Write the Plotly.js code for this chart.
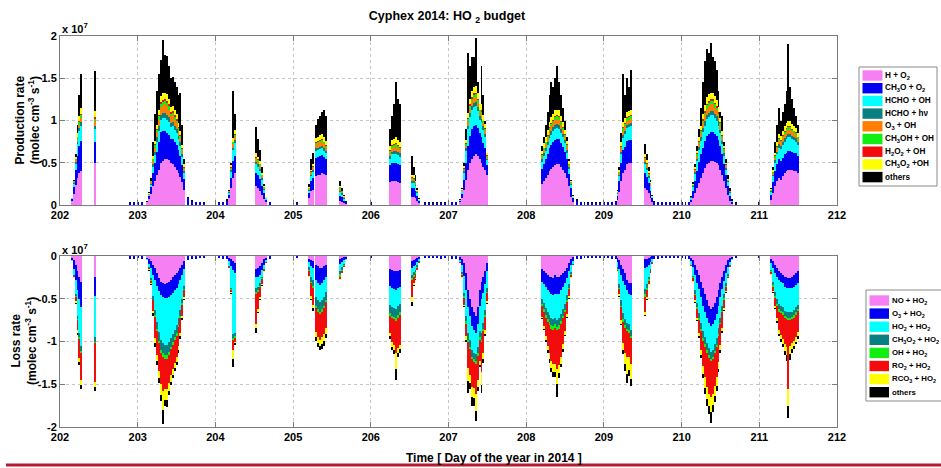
<!DOCTYPE html>
<html><head><meta charset="utf-8">
<script src="https://cdn.plot.ly/plotly-3.0.1.min.js"></script>
<style>html,body{margin:0;padding:0;background:#fff}#chart{width:941px;height:468px}</style>
</head><body><div id="chart"></div>
<script>
// ---------- time (day of year 2014), daytime samples ----------
const time = [
202.15,202.175,202.2,202.225,202.25,202.275,
202.45,
203.125,203.15,203.175,203.2,203.225,203.25,203.275,203.3,203.325,203.35,203.375,203.4,203.425,203.45,203.475,203.5,203.525,203.55,203.575,203.6,
204.175,204.2,204.225,204.25,
204.525,204.55,204.575,204.6,204.625,204.65,
205.2,205.225,205.25,205.3,205.325,205.35,205.375,205.4,205.425,
205.6,205.625,205.65,205.675,
206.25,206.275,206.3,206.325,206.35,206.375,
206.525,206.55,206.575,206.6,206.625,
207.15,207.175,207.2,207.225,207.25,207.275,207.3,207.325,207.35,207.375,207.4,207.425,207.45,207.475,207.5,
208.2,208.225,208.25,208.275,208.3,208.325,208.35,208.375,208.4,208.425,208.45,208.475,208.5,208.525,208.55,208.575,208.6,
209.175,209.2,209.225,209.25,209.275,209.3,209.325,209.35,
209.525,209.55,209.575,209.6,209.625,
210.125,210.15,210.175,210.2,210.225,210.25,210.275,210.3,210.325,210.35,210.375,210.4,210.425,210.45,210.475,210.5,210.525,210.55,210.575,210.6,210.625,210.65,
211.15,211.175,211.2,211.225,211.25,211.275,211.3,211.325,211.35,211.375,211.4,211.425,211.45,211.475,211.5
];
// night-time samples (small background values)
const nightTime = [202.9,202.95,203.0,203.05, 203.65,203.7,203.75,203.8,203.85, 204.05,204.1,204.15, 204.7, 205.05, 206.0,
206.7,206.75,206.8,206.85,206.9,206.95,207.0,207.05,207.1,
208.65,208.7,208.75,208.8,208.85,208.9,208.95,209.0,209.05,209.1,209.15,
209.65,209.7,209.75,209.8,209.85,209.9,209.95,210.0,210.05,210.1, 210.7, 211.0];

// ---------- HO2 production terms (units of 1e7 molec cm-3 s-1) ----------
const H_O2 = [
.05,.13,.24,.32,.38,.40,
.50,
.03,.07,.13,.22,.28,.35,.42,.50,.52,.55,.55,.53,.50,.48,.45,.42,.38,.33,.27,.18,
.08,.20,.32,.38,
.22,.20,.17,.12,.07,.03,
.08,.16,.18,.34,.35,.36,.38,.37,.35,
.05,.04,.02,.01,
.27,.28,.28,.28,.27,.26,
.10,.10,.08,.05,.02,
.03,.08,.18,.30,.42,.50,.55,.58,.60,.58,.55,.50,.45,.42,.35,
.25,.28,.32,.35,.40,.43,.45,.47,.48,.48,.45,.42,.38,.32,.22,.10,.03,
.06,.15,.28,.38,.42,.48,.50,.50,
.20,.18,.14,.08,.03,
.03,.08,.14,.20,.26,.32,.38,.44,.48,.50,.52,.52,.51,.50,.47,.42,.36,.28,.20,.12,.05,.01,
.06,.14,.22,.28,.32,.30,.34,.38,.40,.42,.42,.41,.40,.40,.38
];
const CH3O_O2 = [
.02,.08,.17,.26,.32,.36,
.25,
.01,.04,.08,.16,.22,.28,.32,.36,.35,.33,.30,.30,.28,.30,.30,.29,.27,.25,.20,.13,
.04,.12,.20,.20,
.16,.15,.14,.11,.07,.03,
.06,.12,.14,.22,.22,.22,.21,.20,.20,
.06,.05,.03,.02,
.20,.22,.22,.22,.22,.21,
.10,.10,.09,.06,.03,
.02,.05,.12,.20,.28,.32,.35,.36,.35,.33,.30,.30,.28,.25,.12,
.18,.20,.22,.25,.27,.28,.30,.30,.30,.30,.28,.27,.25,.22,.15,.10,.05,
.05,.13,.22,.27,.27,.28,.27,.27,
.18,.15,.12,.09,.05,
.03,.08,.14,.20,.25,.28,.30,.32,.34,.34,.34,.34,.33,.32,.30,.28,.24,.20,.15,.10,.06,.03,
.06,.13,.18,.20,.22,.22,.22,.22,.22,.22,.22,.22,.22,.21,.20
];
const HCHO_OH = [
.01,.04,.08,.14,.17,.17,
.15,
.00,.01,.03,.07,.09,.12,.14,.15,.16,.15,.16,.15,.14,.15,.14,.14,.13,.12,.10,.07,
.02,.07,.13,.15,
.10,.10,.09,.07,.04,.02,
.03,.06,.07,.08,.08,.08,.08,.07,.06,
.04,.03,.02,.01,
.08,.10,.10,.10,.10,.10,
.06,.06,.05,.03,.01,
.01,.03,.08,.14,.20,.22,.22,.22,.22,.20,.16,.18,.16,.14,.06,
.08,.10,.10,.11,.12,.12,.12,.13,.13,.12,.12,.11,.10,.08,.06,.04,.02,
.02,.06,.10,.14,.15,.15,.15,.16,
.10,.08,.06,.05,.02,
.02,.05,.09,.12,.14,.16,.18,.18,.20,.20,.20,.20,.19,.18,.17,.15,.12,.10,.07,.05,.03,.01,
.03,.07,.10,.12,.14,.14,.15,.15,.16,.16,.16,.15,.15,.14,.13
];
const HCHO_hv = [
.00,.01,.02,.03,.04,.05,
.04,
.00,.00,.01,.03,.04,.05,.05,.06,.06,.06,.06,.06,.05,.05,.05,.05,.04,.04,.03,.02,
.01,.02,.03,.04,
.03,.03,.03,.02,.01,.00,
.01,.02,.02,.03,.03,.03,.03,.03,.03,
.02,.02,.01,.00,
.03,.03,.04,.04,.04,.04,
.02,.02,.02,.01,.00,
.00,.01,.02,.03,.04,.05,.05,.05,.05,.05,.04,.04,.04,.03,.02,
.03,.03,.04,.04,.04,.05,.05,.05,.05,.05,.05,.04,.04,.03,.02,.01,.00,
.01,.02,.03,.04,.04,.04,.04,.04,
.03,.03,.02,.01,.00,
.01,.01,.02,.03,.04,.04,.05,.05,.05,.05,.05,.05,.05,.05,.05,.04,.04,.03,.02,.01,.01,.00,
.01,.02,.03,.03,.04,.04,.04,.04,.04,.04,.04,.04,.04,.04,.03
];
const O3_OH = [
.00,.01,.02,.03,.04,.05,
.05,
.00,.01,.02,.04,.05,.06,.08,.09,.09,.10,.10,.09,.08,.08,.07,.07,.06,.05,.04,.03,
.01,.02,.04,.04,
.03,.03,.03,.02,.01,.00,
.01,.02,.03,.04,.05,.05,.05,.05,.04,
.02,.01,.01,.00,
.04,.05,.05,.05,.05,.05,
.03,.02,.02,.01,.00,
.00,.01,.02,.03,.05,.05,.06,.06,.06,.05,.05,.05,.04,.04,.02,
.03,.04,.04,.05,.05,.05,.05,.06,.06,.06,.05,.05,.04,.04,.02,.01,.00,
.01,.02,.04,.05,.05,.05,.05,.05,
.03,.03,.02,.02,.00,
.00,.01,.02,.03,.04,.05,.06,.07,.07,.08,.08,.08,.07,.07,.06,.05,.04,.03,.02,.01,.01,.00,
.01,.02,.03,.04,.04,.04,.05,.05,.05,.05,.05,.05,.04,.04,.04
];
const CH3OH_OH = [
.00,.01,.01,.02,.03,.03,
.03,
.00,.00,.01,.02,.03,.03,.04,.04,.04,.04,.04,.04,.03,.03,.03,.03,.03,.03,.02,.01,
.00,.01,.02,.02,
.02,.02,.02,.01,.01,.00,
.01,.01,.01,.02,.02,.02,.02,.02,.02,
.02,.01,.01,.00,
.02,.02,.02,.03,.02,.02,
.01,.01,.01,.01,.00,
.00,.00,.01,.02,.03,.03,.03,.03,.03,.03,.02,.03,.02,.02,.01,
.02,.02,.02,.02,.03,.03,.03,.03,.03,.03,.03,.02,.02,.02,.01,.01,.00,
.00,.01,.02,.03,.03,.03,.03,.03,
.02,.02,.01,.01,.00,
.00,.01,.01,.02,.02,.03,.03,.03,.04,.04,.04,.04,.04,.03,.03,.03,.02,.02,.01,.01,.00,.00,
.01,.01,.02,.02,.02,.02,.02,.02,.03,.03,.03,.02,.02,.02,.02
];
const H2O2_OH = [
.00,.00,.01,.01,.01,.02,
.02,
.00,.00,.00,.01,.01,.01,.02,.02,.02,.02,.02,.02,.02,.02,.02,.02,.01,.01,.01,.01,
.00,.01,.01,.01,
.01,.01,.01,.01,.00,.00,
.00,.01,.01,.01,.01,.01,.01,.01,.01,
.00,.00,.00,.00,
.01,.01,.01,.01,.01,.01,
.01,.01,.00,.00,.00,
.00,.00,.01,.01,.01,.02,.02,.02,.02,.02,.01,.02,.01,.01,.01,
.01,.01,.01,.01,.01,.01,.01,.01,.01,.01,.01,.01,.01,.01,.01,.00,.00,
.00,.00,.01,.01,.01,.01,.01,.01,
.01,.01,.01,.00,.00,
.00,.00,.01,.01,.01,.01,.02,.02,.02,.02,.02,.02,.02,.02,.02,.01,.01,.01,.01,.00,.00,.00,
.00,.00,.01,.01,.01,.01,.01,.01,.01,.01,.01,.01,.01,.01,.01
];
const CH3O2_OH = [
.00,.01,.02,.04,.06,.07,
.07,
.00,.01,.01,.03,.04,.05,.06,.07,.08,.08,.08,.07,.06,.06,.06,.06,.05,.05,.04,.03,
.01,.02,.04,.05,
.04,.03,.03,.02,.01,.01,
.01,.02,.03,.05,.05,.06,.06,.05,.05,
.02,.01,.01,.00,
.05,.06,.06,.07,.06,.06,
.03,.03,.02,.01,.01,
.00,.01,.02,.04,.06,.07,.07,.08,.08,.07,.06,.07,.06,.05,.02,
.04,.05,.05,.06,.06,.07,.07,.07,.07,.07,.06,.06,.05,.04,.03,.01,.01,
.01,.02,.04,.06,.06,.06,.06,.06,
.03,.03,.02,.01,.01,
.01,.01,.02,.03,.04,.05,.06,.07,.08,.08,.08,.08,.08,.07,.06,.05,.04,.03,.02,.01,.01,.00,
.01,.02,.03,.04,.05,.05,.05,.06,.06,.06,.06,.06,.05,.05,.04
];
const othersProd = [
.00,.01,.03,.10,.25,.40,
.47,
.01,.01,.03,.17,.32,.40,.42,.43,.63,.45,.45,.39,.34,.35,.33,.32,.33,.44,.24,.07,
.01,.03,.56,.19,
.31,.21,.13,.07,.03,.01,
.04,.13,.13,.16,.21,.22,.26,.32,.29,
.05,.03,.01,.01,
.20,.28,.42,.65,.48,.45,
.22,.10,.06,.02,.01,
.01,.01,.04,.13,.71,.39,.40,.35,.57,.12,.01,.46,.24,.04,.01,
.06,.07,.15,.21,.32,.41,.32,.38,.52,.33,.25,.17,.11,.04,.03,.02,.01,
.02,.04,.11,.57,.27,.40,.29,.48,
.12,.07,.05,.03,.01,
.01,.02,.03,.06,.10,.21,.37,.52,.57,.49,.59,.42,.41,.36,.19,.07,.18,.05,.05,.04,.03,.02,
.01,.04,.13,.21,.31,.18,.22,.27,.38,.91,.41,.29,.22,.14,.10
];
const nightCH3O_O2 = [.02,.03,.02,.03, .08,.05,.03,.03,.02, .02,.03,.05, .03, .02, .02,
.02,.02,.02,.02,.02,.02,.02,.03,.03,
.05,.03,.02,.02,.02,.02,.02,.02,.03,.03,.04,
.04,.03,.03,.03,.03,.02,.02,.02,.03,.03, .02, .02];
const nightOthersProd = [.01,.01,.01,.01, .02,.01,.01,.01,.01, .01,.01,.02, .01, .01, .01,
.01,.01,.01,.01,.01,.01,.01,.01,.01,
.02,.01,.01,.01,.01,.01,.01,.01,.01,.01,.01,
.01,.01,.01,.01,.01,.01,.01,.01,.01,.01, .01, .01];

// ---------- HO2 loss terms (units of 1e7 molec cm-3 s-1, negative) ----------
const NO_HO2 = [
-.02,-.05,-.10,-.18,-.25,-.30,
-.25,
-.02,-.04,-.06,-.10,-.14,-.20,-.26,-.30,-.32,-.33,-.32,-.30,-.28,-.25,-.22,-.20,-.17,-.14,-.10,-.06,
-.02,-.04,-.06,-.08,
-.15,-.14,-.12,-.08,-.04,-.02,
-.03,-.05,-.06,-.10,-.12,-.14,-.14,-.12,-.10,
-.03,-.02,-.01,-.01,
-.15,-.16,-.17,-.18,-.17,-.16,
-.06,-.05,-.04,-.02,-.01,
-.01,-.03,-.08,-.20,-.40,-.50,-.60,-.65,-.70,-.60,-.40,-.30,-.25,-.18,-.08,
-.15,-.18,-.20,-.22,-.24,-.25,-.26,-.22,-.25,-.25,-.22,-.20,-.18,-.14,-.08,-.03,-.01,
-.02,-.05,-.10,-.15,-.20,-.28,-.32,-.32,
-.04,-.03,-.02,-.01,-.00,
-.02,-.05,-.10,-.16,-.22,-.30,-.38,-.45,-.52,-.58,-.62,-.60,-.55,-.48,-.40,-.32,-.25,-.17,-.10,-.05,-.02,-.01,
-.03,-.06,-.10,-.14,-.18,-.20,-.22,-.24,-.25,-.26,-.26,-.24,-.22,-.20,-.18
];
const O3_HO2 = [
-.03,-.10,-.18,-.22,-.25,-.30,
-.22,
-.02,-.05,-.08,-.12,-.14,-.15,-.15,-.16,-.16,-.16,-.17,-.18,-.18,-.18,-.18,-.17,-.16,-.14,-.12,-.09,
-.04,-.08,-.10,-.12,
-.10,-.10,-.10,-.08,-.06,-.03,
-.04,-.07,-.08,-.18,-.20,-.20,-.18,-.16,-.14,
-.06,-.05,-.04,-.02,
-.20,-.22,-.22,-.22,-.20,-.20,
-.08,-.07,-.06,-.05,-.03,
-.04,-.08,-.15,-.20,-.20,-.20,-.22,-.22,-.20,-.20,-.18,-.20,-.18,-.15,-.10,
-.15,-.15,-.16,-.18,-.18,-.20,-.20,-.22,-.20,-.20,-.18,-.16,-.14,-.12,-.10,-.08,-.05,
-.05,-.10,-.12,-.14,-.14,-.12,-.12,-.14,
-.10,-.10,-.08,-.06,-.04,
-.04,-.08,-.12,-.15,-.17,-.18,-.20,-.20,-.20,-.20,-.20,-.20,-.20,-.20,-.18,-.16,-.14,-.12,-.10,-.08,-.05,-.03,
-.05,-.08,-.10,-.10,-.10,-.10,-.10,-.12,-.12,-.12,-.12,-.13,-.14,-.14,-.14
];
const HO2_HO2 = [
-.01,-.07,-.17,-.30,-.40,-.45,
-.48,
-.01,-.04,-.12,-.25,-.35,-.42,-.48,-.52,-.54,-.55,-.55,-.53,-.50,-.48,-.46,-.44,-.40,-.35,-.28,-.20,
-.06,-.25,-.75,-.70,
-.12,-.12,-.10,-.08,-.05,-.02,
-.06,-.12,-.14,-.20,-.20,-.20,-.20,-.20,-.18,
-.08,-.06,-.04,-.02,
-.22,-.22,-.22,-.22,-.22,-.20,
-.08,-.07,-.06,-.04,-.02,
-.02,-.08,-.20,-.30,-.30,-.28,-.28,-.26,-.25,-.26,-.30,-.40,-.35,-.30,-.20,
-.20,-.22,-.25,-.26,-.27,-.28,-.28,-.28,-.30,-.28,-.28,-.26,-.24,-.20,-.15,-.08,-.03,
-.06,-.18,-.30,-.38,-.40,-.38,-.36,-.40,
-.25,-.20,-.14,-.08,-.03,
-.04,-.10,-.18,-.24,-.28,-.30,-.30,-.30,-.30,-.30,-.30,-.30,-.28,-.28,-.26,-.24,-.20,-.16,-.12,-.08,-.04,-.01,
-.08,-.16,-.22,-.26,-.28,-.28,-.28,-.28,-.28,-.28,-.28,-.28,-.27,-.26,-.25
];
const CH3O2_HO2 = [
-.00,-.01,-.02,-.04,-.05,-.06,
-.05,
-.00,-.01,-.02,-.04,-.06,-.08,-.10,-.12,-.12,-.12,-.12,-.11,-.10,-.10,-.09,-.09,-.08,-.07,-.05,-.04,
-.01,-.02,-.05,-.04,
-.05,-.04,-.03,-.02,-.01,-.00,
-.03,-.06,-.07,-.10,-.10,-.11,-.10,-.10,-.09,
-.04,-.03,-.02,-.00,
-.10,-.10,-.10,-.11,-.10,-.10,
-.04,-.03,-.03,-.02,-.01,
-.00,-.02,-.04,-.06,-.08,-.08,-.08,-.08,-.08,-.08,-.07,-.08,-.07,-.06,-.04,
-.06,-.07,-.08,-.08,-.08,-.08,-.08,-.08,-.08,-.08,-.08,-.08,-.07,-.06,-.04,-.02,-.01,
-.02,-.04,-.06,-.07,-.07,-.07,-.07,-.07,
-.06,-.05,-.03,-.02,-.01,
-.01,-.02,-.04,-.05,-.06,-.07,-.08,-.08,-.08,-.08,-.08,-.08,-.08,-.08,-.07,-.06,-.05,-.04,-.03,-.02,-.01,-.00,
-.02,-.04,-.05,-.06,-.06,-.06,-.06,-.06,-.06,-.06,-.06,-.06,-.06,-.06,-.05
];
const OH_HO2 = [
-.00,-.00,-.01,-.01,-.02,-.02,
-.02,
-.00,-.00,-.01,-.01,-.02,-.03,-.03,-.04,-.04,-.04,-.04,-.04,-.03,-.03,-.03,-.03,-.02,-.02,-.02,-.01,
-.00,-.01,-.02,-.02,
-.02,-.02,-.01,-.01,-.00,-.00,
-.01,-.02,-.02,-.03,-.03,-.03,-.03,-.03,-.03,
-.03,-.02,-.01,-.00,
-.03,-.03,-.03,-.03,-.03,-.03,
-.02,-.02,-.02,-.01,-.00,
-.00,-.01,-.02,-.03,-.03,-.03,-.03,-.03,-.03,-.03,-.03,-.03,-.03,-.02,-.01,
-.03,-.03,-.03,-.03,-.04,-.04,-.04,-.04,-.04,-.04,-.04,-.03,-.03,-.02,-.02,-.01,-.00,
-.01,-.02,-.02,-.03,-.03,-.03,-.03,-.03,
-.03,-.02,-.02,-.01,-.00,
-.00,-.01,-.02,-.02,-.02,-.03,-.03,-.03,-.03,-.03,-.03,-.03,-.03,-.03,-.03,-.02,-.02,-.02,-.01,-.01,-.00,-.00,
-.01,-.02,-.02,-.02,-.03,-.03,-.03,-.03,-.03,-.03,-.03,-.03,-.03,-.03,-.02
];
const RO2_HO2 = [
-.00,-.02,-.05,-.12,-.22,-.32,
-.45,
-.00,-.01,-.03,-.12,-.25,-.28,-.32,-.36,-.40,-.36,-.35,-.32,-.30,-.28,-.27,-.25,-.22,-.18,-.13,-.08,
-.01,-.02,-.12,-.04,
-.35,-.20,-.12,-.06,-.02,-.01,
-.06,-.15,-.20,-.28,-.30,-.30,-.30,-.30,-.30,
-.03,-.02,-.01,-.00,
-.20,-.28,-.30,-.38,-.36,-.35,
-.20,-.08,-.05,-.02,-.01,
-.01,-.03,-.08,-.15,-.30,-.30,-.32,-.30,-.35,-.28,-.25,-.35,-.25,-.16,-.10,
-.12,-.17,-.22,-.28,-.33,-.38,-.40,-.42,-.45,-.42,-.38,-.30,-.22,-.14,-.08,-.03,-.01,
-.02,-.06,-.15,-.25,-.30,-.30,-.28,-.30,
-.18,-.08,-.04,-.02,-.01,
-.01,-.03,-.06,-.10,-.15,-.22,-.30,-.36,-.40,-.42,-.42,-.40,-.38,-.35,-.30,-.24,-.18,-.10,-.05,-.02,-.01,-.00,
-.02,-.05,-.10,-.15,-.22,-.25,-.28,-.30,-.32,-.80,-.30,-.28,-.27,-.26,-.25
];
const RCO3_HO2 = [
-.00,-.01,-.02,-.03,-.05,-.06,
-.06,
-.00,-.01,-.01,-.03,-.06,-.07,-.09,-.12,-.22,-.12,-.13,-.10,-.08,-.07,-.06,-.06,-.05,-.04,-.03,-.02,
-.00,-.01,-.10,-.02,
-.05,-.03,-.02,-.01,-.01,-.00,
-.01,-.03,-.04,-.06,-.07,-.07,-.08,-.08,-.07,
-.01,-.00,-.00,-.00,
-.04,-.05,-.06,-.18,-.06,-.05,
-.06,-.02,-.01,-.00,-.00,
-.00,-.01,-.02,-.04,-.15,-.10,-.12,-.12,-.20,-.08,-.05,-.15,-.08,-.04,-.02,
-.02,-.03,-.04,-.05,-.07,-.08,-.10,-.10,-.18,-.10,-.08,-.06,-.04,-.03,-.02,-.01,-.00,
-.01,-.02,-.04,-.08,-.12,-.20,-.15,-.18,
-.03,-.02,-.01,-.00,-.00,
-.00,-.01,-.02,-.03,-.04,-.06,-.09,-.12,-.14,-.15,-.18,-.13,-.12,-.10,-.08,-.06,-.04,-.02,-.01,-.00,-.00,-.00,
-.01,-.01,-.02,-.03,-.04,-.05,-.06,-.08,-.10,-.20,-.10,-.07,-.06,-.05,-.05
];
const othersLoss = [
-.00,-.00,-.01,-.02,-.03,-.04,
-.05,
-.00,-.01,-.01,-.03,-.05,-.05,-.06,-.08,-.16,-.07,-.09,-.05,-.04,-.04,-.04,-.03,-.03,-.03,-.02,-.01,
-.00,-.01,-.10,-.02,
-.06,-.02,-.02,-.01,-.00,-.00,
-.01,-.02,-.03,-.04,-.05,-.05,-.06,-.06,-.05,
-.00,-.00,-.00,-.00,
-.03,-.04,-.05,-.13,-.04,-.04,
-.04,-.01,-.01,-.00,-.00,
-.00,-.00,-.01,-.02,-.14,-.06,-.10,-.09,-.12,-.05,-.02,-.09,-.04,-.02,-.01,
-.01,-.02,-.02,-.03,-.04,-.05,-.06,-.06,-.15,-.06,-.04,-.03,-.02,-.01,-.01,-.00,-.00,
-.00,-.01,-.02,-.05,-.08,-.10,-.07,-.08,
-.01,-.01,-.00,-.00,-.00,
-.00,-.00,-.01,-.01,-.02,-.03,-.05,-.07,-.08,-.09,-.12,-.08,-.07,-.06,-.04,-.03,-.02,-.01,-.01,-.00,-.00,-.00,
-.00,-.01,-.01,-.02,-.02,-.03,-.03,-.05,-.07,-.15,-.07,-.05,-.04,-.03,-.03
];
const nightO3_HO2 = [-.03,-.03,-.02,-.03, -.05,-.03,-.03,-.02,-.02, -.02,-.03,-.04, -.03, -.02, -.02,
-.02,-.02,-.02,-.02,-.03,-.02,-.02,-.03,-.03,
-.04,-.03,-.02,-.02,-.02,-.02,-.02,-.02,-.02,-.03,-.03,
-.03,-.03,-.02,-.02,-.02,-.02,-.02,-.02,-.03,-.03, -.02, -.02];

// ---------- names / colours ----------
const prodNames = ['H + O<sub>2</sub>','CH<sub>3</sub>O + O<sub>2</sub>','HCHO + OH','HCHO + h\u03bd','O<sub>3</sub> + OH',
  'CH<sub>3</sub>OH + OH','H<sub>2</sub>O<sub>2</sub> + OH','CH<sub>3</sub>O<sub>2</sub> +OH','others'];
const prodColors = ['#f680f3','#0000f5','#00ffff','#0a7f7f','#ff8000','#12ee12','#f20c0c','#ffff00','#000000'];
const lossNames = ['NO + HO<sub>2</sub>','O<sub>3</sub> + HO<sub>2</sub>','HO<sub>2</sub> + HO<sub>2</sub>','CH<sub>3</sub>O<sub>2</sub> + HO<sub>2</sub>',
  'OH + HO<sub>2</sub>','RO<sub>2</sub> + HO<sub>2</sub>','RCO<sub>3</sub> + HO<sub>2</sub>','others'];
const lossColors = ['#f680f3','#0000f5','#00ffff','#0a7f7f','#12ee12','#f20c0c','#ffff00','#000000'];
const dayTicks = [202,203,204,205,206,207,208,209,210,211,212];
const prodTicks = [0,0.5,1,1.5,2];
const prodTickText = ['0','0.5','1','1.5','2'];
const lossTicks = [-2,-1.5,-1,-0.5,0];
const lossTickText = ['-2','-1.5','-1','-0.5','0'];

const prodSeries = [H_O2,CH3O_O2,HCHO_OH,HCHO_hv,O3_OH,CH3OH_OH,H2O2_OH,CH3O2_OH,othersProd];
const lossSeries = [NO_HO2,O3_HO2,HO2_HO2,CH3O2_HO2,OH_HO2,RO2_HO2,RCO3_HO2,othersLoss];
[...prodSeries,...lossSeries].forEach((s,i)=>{ if(s.length!==time.length) throw new Error('length mismatch in series '+i+': '+s.length+' vs '+time.length); });
[nightCH3O_O2,nightOthersProd,nightO3_HO2].forEach((s,i)=>{ if(s.length!==nightTime.length) throw new Error('night length mismatch '+i+': '+s.length); });

// ---------- geometry ----------
const W=941,H=468,ML=60,MR=104,MT=36,MB=41;
const PW=W-ML-MR, PH=H-MT-MB;
const fx = px => (px-ML)/PW;
const fy = py => (H-MB-py)/PH;
const FONT = 'Liberation Sans, Arial, Helvetica, sans-serif';
const BW = 0.025;

const traces = [];
prodSeries.forEach((s,i)=>{
  let x = time, y = s;
  if(i===1){ x = time.concat(nightTime); y = s.concat(nightCH3O_O2); }
  if(i===8){ x = time.concat(nightTime); y = s.concat(nightOthersProd); }
  traces.push({type:'bar', x:x, y:y, width:BW, name:prodNames[i], xaxis:'x', yaxis:'y',
    marker:{color:prodColors[i], line:{width:0}}, showlegend:false, hoverinfo:'skip'});
});
lossSeries.forEach((s,i)=>{
  let x = time, y = s;
  if(i===1){ x = time.concat(nightTime); y = s.concat(nightO3_HO2); }
  traces.push({type:'bar', x:x, y:y, width:BW, name:lossNames[i], xaxis:'x2', yaxis:'y2',
    marker:{color:lossColors[i], line:{width:0}}, showlegend:false, hoverinfo:'skip'});
});

const axisCommon = {showline:true, mirror:'ticks', linecolor:'#7a7a7a', linewidth:1, ticks:'inside', ticklen:5,
  tickcolor:'#7a7a7a', showgrid:true, gridcolor:'#c4c4c4', griddash:'dot', gridwidth:1, zeroline:false,
  tickfont:{family:FONT, size:11, color:'#000', weight:'bold'}, automargin:false, fixedrange:true};

const shapes = [];
const annotations = [];
// legends drawn as boxes
function legendBox(names, colors, box, swX0, swX1, txX, row0, pitch, fsize){
  shapes.push({type:'rect', xref:'paper', yref:'paper', x0:fx(box[0]), x1:fx(box[1]), y0:fy(box[3]), y1:fy(box[2]),
    line:{color:'#8a8a8a', width:1}, fillcolor:'#ffffff', layer:'above'});
  names.forEach((n,i)=>{
    const c = row0 + i*pitch;
    shapes.push({type:'rect', xref:'paper', yref:'paper', x0:fx(swX0), x1:fx(swX1), y0:fy(c+5.2), y1:fy(c-5.2),
      line:{width:0}, fillcolor:colors[i], layer:'above'});
    annotations.push({xref:'paper', yref:'paper', x:fx(txX), y:fy(c), xanchor:'left', yanchor:'middle', showarrow:false,
      text:n, font:{family:FONT, size:fsize, color:'#000', weight:'bold'}});
  });
}
legendBox(prodNames, prodColors, [859,937,67,186], 862.5, 882.5, 883, 75.5, 12.7, 8.2);
legendBox(lossNames, lossColors, [866,950,290,401], 869.5, 889, 889.5, 300.5, 13.1, 7.8);

// red rule at the bottom
shapes.push({type:'line', xref:'paper', yref:'paper', x0:fx(6), x1:fx(941), y0:fy(465), y1:fy(465),
  line:{color:'#b31b30', width:3}});

// axis titles and exponent labels
annotations.push({xref:'paper', yref:'paper', x:fx(27), y:fy(120.5), xanchor:'center', yanchor:'middle', textangle:-90,
  showarrow:false, text:'Production rate<br>(molec cm<sup>-3</sup> s<sup>-1</sup>)', font:{family:FONT, size:12, color:'#000', weight:'bold'}});
annotations.push({xref:'paper', yref:'paper', x:fx(24), y:fy(341), xanchor:'center', yanchor:'middle', textangle:-90,
  showarrow:false, text:'Loss rate<br>(molec cm<sup>-3</sup> s<sup>-1</sup>)', font:{family:FONT, size:12, color:'#000', weight:'bold'}});
annotations.push({xref:'paper', yref:'paper', x:fx(494), y:fy(458), xanchor:'center', yanchor:'middle', showarrow:false,
  text:'Time [ Day of the year in 2014 ]', font:{family:FONT, size:12, color:'#000', weight:'bold'}});
annotations.push({xref:'paper', yref:'paper', x:fx(60), y:fy(28), xanchor:'left', yanchor:'middle', showarrow:false,
  text:'x 10<sup>7</sup>', font:{family:FONT, size:11, color:'#000', weight:'bold'}});
annotations.push({xref:'paper', yref:'paper', x:fx(60), y:fy(249), xanchor:'left', yanchor:'middle', showarrow:false,
  text:'x 10<sup>7</sup>', font:{family:FONT, size:11, color:'#000', weight:'bold'}});

const layout = {
  width:W, height:H, margin:{l:ML, r:MR, t:MT, b:MB, pad:0},
  paper_bgcolor:'#ffffff', plot_bgcolor:'#ffffff',
  barmode:'relative', bargap:0, showlegend:false,
  title:{text:'Cyphex 2014: HO <sub>2</sub> budget', x:447/W, xanchor:'center', y:1-16/H, yanchor:'middle',
    font:{family:FONT, size:12.5, color:'#000', weight:'bold'}},
  xaxis:Object.assign({}, axisCommon, {domain:[0,1], anchor:'y', range:[202,212], tickvals:dayTicks, ticktext:dayTicks.map(String)}),
  yaxis:Object.assign({}, axisCommon, {domain:[fy(205),1], anchor:'x', range:[0,2], tickvals:prodTicks, ticktext:prodTickText}),
  xaxis2:Object.assign({}, axisCommon, {domain:[0,1], anchor:'y2', range:[202,212], tickvals:dayTicks, ticktext:dayTicks.map(String)}),
  yaxis2:Object.assign({}, axisCommon, {domain:[0,fy(256)], anchor:'x2', range:[-2,0], tickvals:lossTicks, ticktext:lossTickText}),
  shapes:shapes, annotations:annotations
};
Plotly.newPlot('chart', traces, layout, {staticPlot:true, displayModeBar:false});
</script>
</body></html>
